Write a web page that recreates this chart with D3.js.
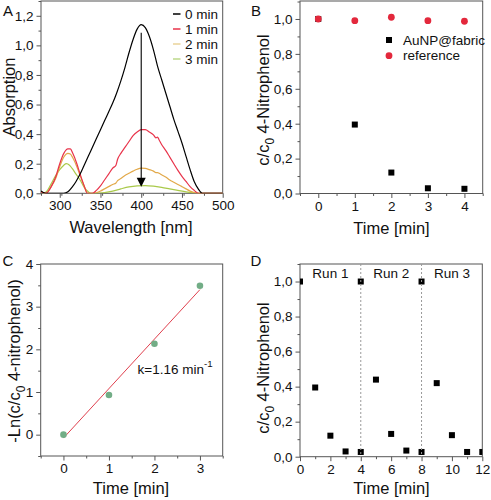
<!DOCTYPE html>
<html><head><meta charset="utf-8">
<script src="https://cdn.jsdelivr.net/npm/d3@7"></script>
<style>body{margin:0;background:#fff}svg{display:block;font-family:Arial,"Liberation Sans",sans-serif}</style>
</head><body><svg id="c" width="491" height="500"></svg>
<script>
// ---------- Panel A data ----------
const wl0  = [277,280,283,300,305,310,315,320,325,330,335,340,345,350,355,360,365,370,375,380,385,390,395,400,405,410,415,420,425,430,435,440,445,450,455,460,465,470,475,500];
const abs0 = [0.015,0.005,0,0,0,0.01,0.04,0.08,0.13,0.19,0.25,0.31,0.37,0.43,0.49,0.55,0.61,0.68,0.76,0.85,0.95,1.04,1.11,1.14,1.12,1.06,0.97,0.86,0.77,0.68,0.59,0.50,0.42,0.34,0.25,0.16,0.08,0.03,0,0];
const wl1  = [277,283,290,295,300,305,310,313,316,321,325,330,334,340,345,350,355,360,365,369,371,375,380,385,390,395,400,405,410,415,418,420,422,425,430,435,440,445,450,455,460,465,470,500];
const abs1 = [0.01,0,0.05,0.11,0.20,0.27,0.30,0.30,0.27,0.20,0.13,0.05,0,0,0.02,0.05,0.09,0.13,0.17,0.19,0.23,0.27,0.31,0.35,0.39,0.415,0.43,0.43,0.415,0.395,0.375,0.38,0.36,0.33,0.29,0.245,0.20,0.155,0.115,0.08,0.045,0.02,0,0];
const wl2  = [277,283,290,295,300,305,310,313,316,321,325,330,334,342,350,355,360,365,369,371,375,380,385,390,395,400,405,410,415,418,420,422,425,430,435,440,445,450,455,460,465,470,500];
const abs2 = [0.01,0,0.05,0.10,0.18,0.245,0.27,0.265,0.24,0.18,0.12,0.05,0,0,0.015,0.03,0.045,0.06,0.07,0.085,0.10,0.12,0.135,0.15,0.163,0.17,0.168,0.16,0.15,0.14,0.14,0.135,0.125,0.11,0.09,0.075,0.06,0.045,0.03,0.015,0.005,0,0];
const wl3  = [277,280,285,290,295,300,305,308,312,315,320,325,330,335,338,345,355,365,375,385,395,405,415,425,435,445,455,465,470,500];
const abs3 = [0.01,0,0.02,0.07,0.12,0.16,0.19,0.20,0.19,0.17,0.13,0.09,0.04,0.01,0,0,0.005,0.015,0.03,0.043,0.05,0.052,0.048,0.04,0.03,0.02,0.01,0.003,0,0];
const seriesNamesA = ["0 min","1 min","2 min","3 min"];
const seriesColorsA = ["#000000","#e8334a","#e2a94a","#a9c94a"];
const legendColorsA = ["#000000","#e8334a","#ead39a","#bcd98a"];
const xTicksA = [300,350,400,450,500];
const yTicksA = [0,0.2,0.4,0.6,0.8,1.0,1.2];
const arrowA = {x:400, y1:1.085, y2:0.045};

// ---------- Panel B data ----------
const timeB = [0,1,2,3,4];
const aunpB = [1.0,0.395,0.12,0.03,0.027];
const refB  = [1.0,0.99,1.01,0.99,0.987];
const xTicksB = [0,1,2,3,4];
const yTicksB = [0,0.2,0.4,0.6,0.8,1.0];

// ---------- Panel C data ----------
const timeC = [0,1,2,3];
const lnC   = [0.0,0.93,2.13,3.49];
const fitX  = [0,3];
const fitY  = [-0.08,3.40];
const xTicksC = [0,1,2,3];
const yTicksC = [0,1,2,3,4];

// ---------- Panel D data ----------
const timeD = [0,1,2,3,4,4,5,6,7,8,8,9,10,11,12];
const valD  = [1.0,0.395,0.12,0.03,0.027,1.0,0.44,0.13,0.035,0.027,1.0,0.42,0.123,0.027,0.027];
const runSep = [4,8];
const runLabels = ["Run 1","Run 2","Run 3"];
const runCenters = [2,6,10];
const xTicksD = [0,2,4,6,8,10,12];
const yTicksD = [0,0.2,0.4,0.6,0.8,1.0];

const svg = d3.select("#c");
const comma = d => d3.format(".1f")(d).replace(".",",");
const AX = "#555";

function panel(o){
  const g = svg.append("g");
  const x = d3.scaleLinear().domain(o.xd).range([o.x0,o.x1]);
  const y = d3.scaleLinear().domain(o.yd).range([o.y1,o.y0]);
  // minor ticks
  const minorX = d3.range(o.xd[0], o.xd[1]+1e-9, o.xm).filter(v=>!o.xt.some(t=>Math.abs(t-v)<1e-9));
  const minorY = d3.range(o.yd[0], o.yd[1]+1e-9, o.ym).filter(v=>!o.yt.some(t=>Math.abs(t-v)<1e-9));
  g.append("g").attr("transform",`translate(0,${o.y1})`)
    .call(d3.axisBottom(x).tickValues(minorX).tickSize(2.5).tickFormat(""))
    .call(s=>{s.select(".domain").remove(); s.selectAll("line").attr("stroke",AX);});
  g.append("g").attr("transform",`translate(${o.x0},0)`)
    .call(d3.axisLeft(y).tickValues(minorY).tickSize(2.5).tickFormat(""))
    .call(s=>{s.select(".domain").remove(); s.selectAll("line").attr("stroke",AX);});
  const xa = g.append("g").attr("transform",`translate(0,${o.y1})`)
    .call(d3.axisBottom(x).tickValues(o.xt).tickSize(4.5).tickPadding(3).tickFormat(o.xf||(d=>d)));
  const ya = g.append("g").attr("transform",`translate(${o.x0},0)`)
    .call(d3.axisLeft(y).tickValues(o.yt).tickSize(4.5).tickPadding(3).tickFormat(o.yf||(d=>d)));
  [xa,ya].forEach(a=>{a.select(".domain").remove(); a.selectAll("line").attr("stroke",AX);
    a.selectAll("text").attr("fill","#111").style("font-size","13.5px").style("font-family","Arial, 'Liberation Sans', sans-serif");});
  g.append("rect").attr("x",o.x0).attr("y",o.y0).attr("width",o.x1-o.x0).attr("height",o.y1-o.y0)
    .attr("fill","none").attr("stroke",AX).attr("stroke-width",1);
  const clipId = "clip"+o.id;
  svg.append("clipPath").attr("id",clipId).append("rect").attr("x",o.x0).attr("y",o.y0).attr("width",o.x1-o.x0).attr("height",o.y1-o.y0);
  const plot = g.append("g").attr("clip-path",`url(#${clipId})`);
  return {g,x,y,plot};
}

function sub(textSel, parts){
  parts.forEach(p=>{
    const t = textSel.append("tspan").text(p.t);
    if(p.sub) t.attr("baseline-shift","sub").style("font-size","0.72em");
    if(p.sup) t.attr("baseline-shift","super").style("font-size","0.72em");
  });
}

function label(x,y,txt,size,rot,anchor){
  const t = svg.append("text").attr("transform",`translate(${x},${y})`+(rot?` rotate(${rot})`:""))
    .attr("text-anchor",anchor||"middle").attr("dominant-baseline","central")
    .style("font-size",size+"px").attr("fill","#111");
  if(typeof txt==="string") t.text(txt); else sub(t,txt);
  return t;
}

// ===== Panel A =====
{
  const P = panel({id:"A",x0:41,x1:222.7,y0:1,y1:193.3,xd:[277,500],yd:[0,1.3],xt:xTicksA,yt:yTicksA,xm:25,ym:0.1,yf:comma});
  const sets = [[wl0,abs0],[wl1,abs1],[wl2,abs2],[wl3,abs3]];
  const line = d3.line().curve(d3.curveMonotoneX);
  sets.slice().reverse().forEach((s,ri)=>{
    const i = sets.length-1-ri;
    P.plot.append("path").attr("d",line(s[0].map((w,k)=>[P.x(w),P.y(s[1][k])])))
      .attr("fill","none").attr("stroke",seriesColorsA[i]).attr("stroke-width",1.2);
  });
  // arrow
  const ax = P.x(arrowA.x), ay1 = P.y(arrowA.y1), ay2 = P.y(arrowA.y2);
  P.g.append("line").attr("x1",ax).attr("x2",ax).attr("y1",ay1).attr("y2",ay2-6).attr("stroke","#000").attr("stroke-width",1.1);
  P.g.append("path").attr("d",`M${ax-4.5},${ay2-9} L${ax+4.5},${ay2-9} L${ax},${ay2} Z`).attr("fill","#000");
  // legend
  seriesNamesA.forEach((n,i)=>{
    const ly = 14 + i*15;
    P.g.append("line").attr("x1",173).attr("x2",180.5).attr("y1",ly).attr("y2",ly).attr("stroke",legendColorsA[i]).attr("stroke-width",1.5);
    label(185,ly,n,13.5,0,"start");
  });
  label(8.5,97,"Absorption",16.5,-90);
  label(131,227,"Wavelength [nm]",16.5);
  label(8,10,"A",15);
}

// ===== Panel B =====
{
  const P = panel({id:"B",x0:300,x1:482.7,y0:1,y1:193.5,xd:[-0.5,4.5],yd:[0,1.103],xt:xTicksB,yt:yTicksB,xm:0.5,ym:0.1,yf:comma});
  P.plot.selectAll("rect.sq").data(timeB).join("rect").attr("class","sq")
    .attr("x",(d)=>P.x(d)-3).attr("y",(d,i)=>P.y(aunpB[i])-3).attr("width",6).attr("height",6).attr("fill","#000");
  P.plot.selectAll("circle.ref").data(timeB).join("circle").attr("class","ref")
    .attr("cx",d=>P.x(d)).attr("cy",(d,i)=>P.y(refB[i])).attr("r",3.4).attr("fill","#e3283c");
  P.g.append("rect").attr("x",386).attr("y",37).attr("width",6).attr("height",6).attr("fill","#000");
  P.g.append("circle").attr("cx",389).attr("cy",55.7).attr("r",3.4).attr("fill","#e3283c");
  label(403,40,"AuNP@fabric",13.5,0,"start");
  label(403,55.7,"reference",13.5,0,"start");
  label(263,100,[{t:"c/c"},{t:"0",sub:true},{t:" 4-Nitrophenol"}],16.5,-90);
  label(391.5,228,"Time [min]",16.5);
  label(256,10,"B",15);
}

// ===== Panel C =====
{
  const P = panel({id:"C",x0:40.7,x1:222.7,y0:264,y1:456,xd:[-0.5,3.5],yd:[-0.5,4],xt:xTicksC,yt:yTicksC,xm:0.5,ym:0.5});
  P.plot.append("path").attr("d",d3.line()(fitX.map((v,i)=>[P.x(v),P.y(fitY[i])])))
    .attr("stroke","#e0404e").attr("stroke-width",1).attr("fill","none");
  P.plot.selectAll("circle").data(timeC).join("circle")
    .attr("cx",d=>P.x(d)).attr("cy",(d,i)=>P.y(lnC[i])).attr("r",3.3).attr("fill","#72ad86");
  label(137.5,369,[{t:"k=1.16 min"},{t:"-1",sup:true}],13.5,0,"start");
  label(14,361,[{t:"-Ln(c/c"},{t:"0",sub:true},{t:" 4-nitrophenol)"}],16.5,-90);
  label(131,488,"Time [min]",16.5);
  label(8,260,"C",15);
}

// ===== Panel D =====
{
  const P = panel({id:"D",x0:300,x1:482.3,y0:264,y1:456.7,xd:[0,12],yd:[0,1.1],xt:xTicksD,yt:yTicksD,xm:1,ym:0.1,yf:comma});
  runSep.forEach(v=>{
    P.g.append("line").attr("x1",P.x(v)).attr("x2",P.x(v)).attr("y1",264).attr("y2",456.7)
      .attr("stroke","#999").attr("stroke-width",1).attr("stroke-dasharray","2,2");
  });
  P.plot.selectAll("rect.sq").data(timeD).join("rect").attr("class","sq")
    .attr("x",d=>P.x(d)-3).attr("y",(d,i)=>P.y(valD[i])-3).attr("width",6).attr("height",6).attr("fill","#000");
  runLabels.forEach((r,i)=>label(P.x(runCenters[i]),273.5,r,13.5));
  label(263,368,[{t:"c/c"},{t:"0",sub:true},{t:" 4-Nitrophenol"}],16.5,-90);
  label(391.5,488,"Time [min]",16.5);
  label(256,260,"D",15);
}
</script></body></html>
